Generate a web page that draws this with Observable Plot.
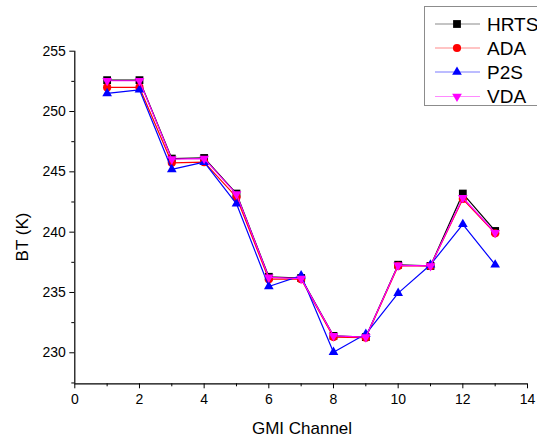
<!DOCTYPE html>
<html>
<head>
<meta charset="utf-8">
<script src="https://cdn.jsdelivr.net/npm/d3@7"></script>
<script src="https://cdn.jsdelivr.net/npm/@observablehq/plot@0.6"></script>
<style>
  html, body { margin: 0; padding: 0; background: #fff; }
  #chart { position: relative; width: 537px; height: 439px; overflow: hidden; }
</style>
</head>
<body>
<div id="chart"></div>
<script>
// ---- data ----
const channels = [1, 2, 3, 4, 5, 6, 7, 8, 9, 10, 11, 12, 13];
const hrts = [252.6, 252.6, 246.1, 246.15, 243.2, 236.3, 236.2, 231.4, 231.3, 237.3, 237.2, 243.2, 240.1];
const ada  = [252.0, 252.0, 245.75, 245.8, 242.9, 236.1, 236.1, 231.3, 231.25, 237.2, 237.2, 242.75, 239.9];
const p2s  = [251.5, 251.8, 245.2, 245.8, 242.35, 235.5, 236.4, 230.05, 231.55, 234.95, 237.3, 240.65, 237.3];
const vda  = [252.55, 252.55, 246.05, 246.1, 243.15, 236.25, 236.15, 231.4, 231.3, 237.25, 237.2, 242.85, 239.95];
const seriesNames = ["HRTS", "ADA", "P2S", "VDA"];
const xMajorTicks = [0, 2, 4, 6, 8, 10, 12, 14];
const xMinorTicks = [1, 3, 5, 7, 9, 11, 13];
const yMajorTicks = [230, 235, 240, 245, 250, 255];
const yMinorTicks = [227.5, 232.5, 237.5, 242.5, 247.5, 252.5];
const xTitle = "GMI Channel";
const yTitle = "BT (K)";

// ---- styles ----
const FONT = "'Liberation Sans', Arial, Helvetica, sans-serif";
const triangleDown = {
  draw(ctx, size) {
    const y = -Math.sqrt(size / (Math.sqrt(3) * 3));
    ctx.moveTo(0, -y * 2);
    ctx.lineTo(-Math.sqrt(3) * y, y);
    ctx.lineTo(Math.sqrt(3) * y, y);
    ctx.closePath();
  }
};
const styles = {
  HRTS: {color: "#000000", legendLine: "#8a8a8a", symbol: "square", r: 4.4},
  ADA:  {color: "#ff0000", legendLine: "#ff8a8a", symbol: "circle", r: 4.1},
  P2S:  {color: "#0000ff", legendLine: "#7a7aff", symbol: "triangle", r: 3.6},
  VDA:  {color: "#ff00ff", legendLine: "#ff8aff", symbol: triangleDown, r: 3.6}
};
const valuesBySeries = {HRTS: hrts, ADA: ada, P2S: p2s, VDA: vda};

const rows = [];
for (const s of seriesNames) {
  channels.forEach((c, i) => rows.push({series: s, channel: c, bt: valuesBySeries[s][i]}));
}

const yMin = 227.43, yMax = 255;
const seriesMarks = seriesNames.flatMap(s => {
  const st = styles[s];
  const d = rows.filter(r => r.series === s);
  return [
    Plot.line(d, {x: "channel", y: "bt", stroke: st.color, strokeWidth: 1.2}),
    Plot.dot(d, {x: "channel", y: "bt", fill: st.color, stroke: "none", symbol: st.symbol, r: st.r})
  ];
});

const chart = Plot.plot({
  width: 537,
  height: 439,
  marginLeft: 74.3,
  marginRight: 10,
  marginTop: 50.7,
  marginBottom: 55.7,
  style: {fontFamily: FONT, fontSize: "14px", color: "#000", background: "#fff", overflow: "visible"},
  x: {domain: [0, 14]},
  y: {domain: [yMin, yMax]},
  marks: [
    Plot.axisX({ticks: xMajorTicks, tickSize: 5, tickPadding: 5, fontSize: 14, label: null, stroke: "#000"}),
    Plot.axisX({ticks: xMinorTicks, tickSize: 3, tickFormat: () => "", label: null, stroke: "#000"}),
    Plot.axisY({ticks: yMajorTicks, tickSize: 5, tickPadding: 4, fontSize: 14, label: null, stroke: "#000"}),
    Plot.axisY({ticks: yMinorTicks, tickSize: 3, tickFormat: () => "", label: null, stroke: "#000"}),
    Plot.ruleX([0], {stroke: "#000", strokeWidth: 1.2}),
    Plot.ruleY([yMin], {stroke: "#000", strokeWidth: 1.2}),
    ...seriesMarks
  ]
});

document.getElementById("chart").appendChild(chart);

// ---- axis titles and legend ----
const svg = d3.select(chart);
svg.append("text")
  .attr("x", 302).attr("y", 428)
  .attr("text-anchor", "middle").attr("dominant-baseline", "central")
  .style("font-family", FONT).style("font-size", "17px").attr("fill", "#000")
  .text(xTitle);
svg.append("text")
  .attr("transform", "translate(22,237) rotate(-90)")
  .attr("text-anchor", "middle").attr("dominant-baseline", "central")
  .style("font-family", FONT).style("font-size", "17px").attr("fill", "#000")
  .text(yTitle);

const lg = svg.append("g");
lg.append("rect")
  .attr("x", 424.5).attr("y", 6.5).attr("width", 140).attr("height", 99)
  .attr("fill", "#fff").attr("stroke", "#8c8c8c").attr("stroke-width", 1);
const legendY = [24, 48, 72, 96.5];
seriesNames.forEach((s, i) => {
  const st = styles[s];
  const y = legendY[i];
  lg.append("line").attr("x1", 435).attr("x2", 480).attr("y1", y).attr("y2", y)
    .attr("stroke", st.legendLine).attr("stroke-width", 1.1);
  const sym = typeof st.symbol === "string"
    ? ({square: d3.symbolSquare, circle: d3.symbolCircle, triangle: d3.symbolTriangle})[st.symbol]
    : st.symbol;
  lg.append("path")
    .attr("transform", `translate(457,${y})`)
    .attr("d", d3.symbol(sym, st.r * st.r * Math.PI)())
    .attr("fill", st.color);
  lg.append("text")
    .attr("x", 487).attr("y", y)
    .attr("text-anchor", "start")
    .attr("dominant-baseline", "central")
    .style("font-family", FONT).style("font-size", "19px").attr("fill", "#000")
    .text(s);
});
</script>
</body>
</html>
